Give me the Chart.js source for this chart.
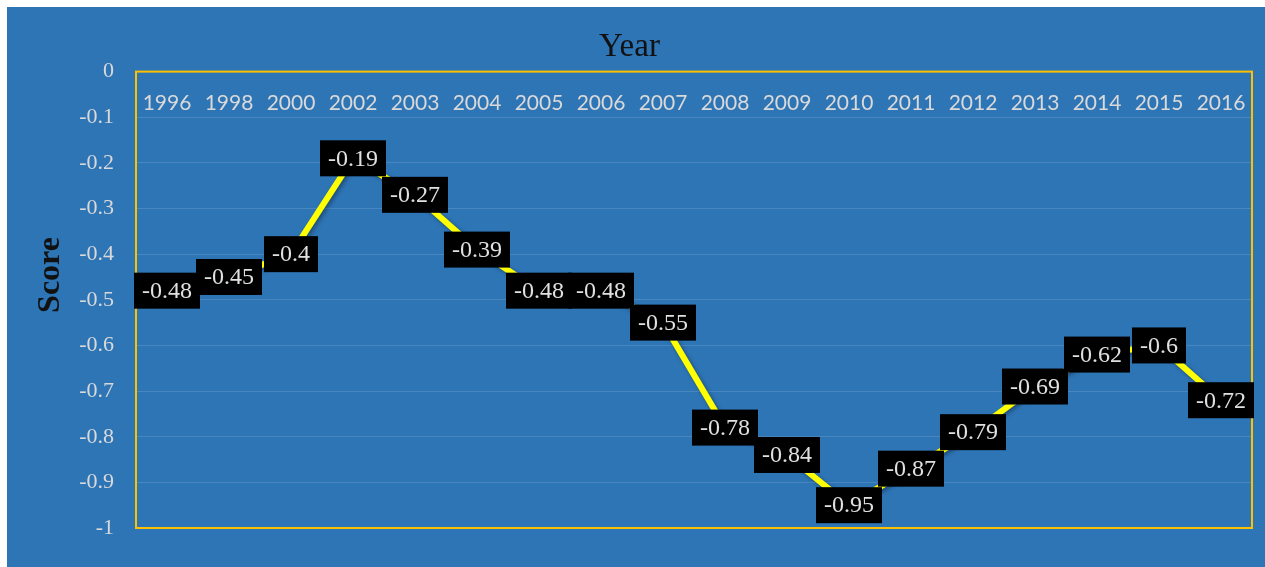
<!DOCTYPE html>
<html>
<head>
<meta charset="utf-8">
<script src="https://cdn.jsdelivr.net/npm/chart.js@4.4.1/dist/chart.umd.min.js"></script>
<style>
  html, body { margin: 0; padding: 0; background: #ffffff; }
  #wrap { position: absolute; left: 7px; top: 7px; width: 1258px; height: 560px; background: #2E75B6; }
</style>
</head>
<body>
<div id="wrap"><canvas id="chartScore"></canvas></div>
<script>
const anos = ['1996', '1998', '2000', '2002', '2003', '2004', '2005', '2006', '2007', '2008', '2009', '2010', '2011', '2012', '2013', '2014', '2015', '2016'];
const scores = [-0.48, -0.45, -0.4, -0.19, -0.27, -0.39, -0.48, -0.48, -0.55, -0.78, -0.84, -0.95, -0.87, -0.79, -0.69, -0.62, -0.6, -0.72];
const yMin = -1;
const yMax = 0;
const yStep = 0.1;

const corBorda = '#FFC000';
const corTexto = '#D9D9D9';
const serifa = "'Liberation Serif', 'Times New Roman', serif";

// moldura amarela + rótulos dos anos dentro da área do gráfico
const molduraPlugin = {
  id: 'moldura',
  beforeDatasetsDraw(chart) {
    const { ctx, chartArea, scales } = chart;
    ctx.save();
    ctx.font = 'normal 400 21px Lato, sans-serif';
    ctx.fillStyle = corTexto;
    ctx.textAlign = 'center';
    ctx.textBaseline = 'middle';
    anos.forEach((ano, i) => {
      ctx.fillText(ano, scales.x.getPixelForValue(i), chartArea.top + 32);
    });
    ctx.strokeStyle = corBorda;
    ctx.lineWidth = 2;
    ctx.strokeRect(chartArea.left, chartArea.top, chartArea.right - chartArea.left, chartArea.bottom - chartArea.top);

    // título do eixo y
    ctx.save();
    ctx.translate(44, 268);
    ctx.rotate(-Math.PI / 2);
    ctx.font = 'normal 700 32px ' + serifa;
    ctx.fillStyle = '#111111';
    ctx.fillText('Score', 0, 0);
    ctx.restore();
    ctx.restore();
  },
  beforeDatasetDraw(chart) {
    const ctx = chart.ctx;
    ctx.save();
    ctx.shadowColor = 'rgba(0, 0, 0, 0.35)';
    ctx.shadowBlur = 4;
    ctx.shadowOffsetX = 2;
    ctx.shadowOffsetY = 2;
  },
  afterDatasetDraw(chart) {
    chart.ctx.restore();
  }
};

// caixas pretas com os valores
const rotulosPlugin = {
  id: 'rotulos',
  afterDatasetsDraw(chart) {
    const { ctx } = chart;
    const meta = chart.getDatasetMeta(0);
    ctx.save();
    ctx.font = 'normal 400 24px ' + serifa;
    ctx.textAlign = 'center';
    ctx.textBaseline = 'middle';
    meta.data.forEach((pt, i) => {
      const txt = String(scores[i]);
      const w = ctx.measureText(txt).width + 16;
      const h = 36;
      ctx.fillStyle = '#000000';
      ctx.fillRect(pt.x - w / 2, pt.y - h / 2, w, h);
      ctx.fillStyle = '#E0E0E0';
      ctx.fillText(txt, pt.x, pt.y + 1);
    });
    ctx.restore();
  }
};

const ctxScore = document.getElementById('chartScore').getContext('2d');
new Chart(ctxScore, {
  type: 'line',
  data: {
    labels: anos,
    datasets: [{
      label: 'Score',
      data: scores,
      borderColor: '#FFFF00',
      borderWidth: 6,
      pointRadius: 0,
      tension: 0,
      fill: false
    }]
  },
  options: {
    responsive: true,
    maintainAspectRatio: false,
    animation: false,
    layout: {
      padding: { top: 0, right: 13, bottom: 39, left: 0 }
    },
    plugins: {
      legend: { display: false },
      tooltip: { enabled: false },
      title: {
        display: true,
        text: 'Year',
        color: '#111111',
        font: { family: serifa, size: 33, weight: 'normal' },
        padding: { top: 21, bottom: 4 }
      }
    },
    scales: {
      x: {
        display: false,
        offset: true
      },
      y: {
        min: yMin,
        max: yMax,
        afterFit(scale) { scale.width = 129; },
        afterBuildTicks(scale) {
          const t = [];
          for (let v = yMax; v >= yMin - 1e-9; v -= yStep) t.push({ value: Math.round(v * 10) / 10 });
          scale.ticks = t;
        },
        grid: {
          color: 'rgba(255, 255, 255, 0.13)',
          lineWidth: 1,
          drawTicks: false
        },
        border: { display: false },
        ticks: {
          color: corTexto,
          padding: 22,
          font: { family: serifa, size: 22, weight: 'normal' },
          callback: (v) => String(Math.round(v * 10) / 10)
        }
      }
    }
  },
  plugins: [molduraPlugin, rotulosPlugin]
});
</script>
</body>
</html>
